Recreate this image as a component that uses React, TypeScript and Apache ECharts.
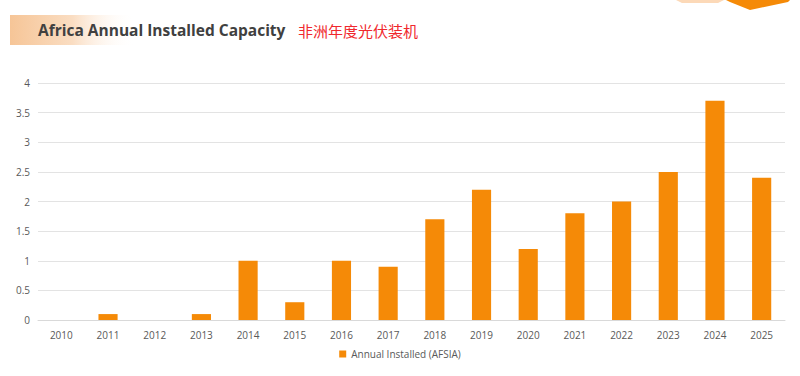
import React, { useEffect, useRef } from "react";
import * as echarts from "echarts";

const years = ["2010","2011","2012","2013","2014","2015","2016","2017","2018","2019","2020","2021","2022","2023","2024","2025"];
const installed = [0, 0.1, 0, 0.1, 1.0, 0.3, 1.0, 0.9, 1.7, 2.2, 1.2, 1.8, 2.0, 2.5, 3.7, 2.4];
const seriesName = "Annual Installed (AFSIA)";
const titleEn = "Africa Annual Installed Capacity";
const titleZh = "非洲年度光伏装机";

export default function App() {
  const ref = useRef<HTMLDivElement>(null);
  useEffect(() => {
    const chart = echarts.init(ref.current!, null, { renderer: "svg" });
    chart.setOption({
      animation: false,
      backgroundColor: "#ffffff",
      grid: { left: 38, right: 15, top: 83, bottom: 56, containLabel: false },
      graphic: [
        {
          type: "rect",
          shape: { x: 10, y: 15, width: 125, height: 30 },
          style: {
            fill: new echarts.graphic.LinearGradient(0, 0, 1, 0, [
              { offset: 0, color: "#F6C597" },
              { offset: 0.5, color: "#FADDC2" },
              { offset: 1, color: "rgba(255,255,255,0)" },
            ]),
          },
        },
        {
          type: "text",
          x: 38, y: 30,
          style: { text: titleEn, fill: "#404040", font: "bold 15.5px 'Open Sans', sans-serif", verticalAlign: "middle" },
        },
        {
          type: "text",
          x: 298, y: 30,
          style: { text: titleZh, fill: "#F0282D", font: "15px 'Noto Sans CJK SC', sans-serif", verticalAlign: "middle" },
        },
        {
          type: "polygon",
          shape: { points: [[676, 0], [724, 0], [718, 3], [682, 3]] },
          style: { fill: "#FCD9B8" },
        },
        {
          type: "polygon",
          shape: { points: [[726, 0], [790, 0], [788, 2], [750, 10], [730, 2]] },
          style: { fill: "#F58A07" },
        },
      ],
      legend: {
        bottom: 12,
        left: "center",
        itemWidth: 7,
        itemHeight: 7,
        icon: "rect",
        textStyle: { color: "#595959", fontSize: 10, fontFamily: "'Open Sans', sans-serif" },
        data: [seriesName],
      },
      xAxis: {
        type: "category",
        data: years,
        axisLine: { lineStyle: { color: "#D9D9D9" } },
        axisTick: { show: false },
        axisLabel: { color: "#595959", fontSize: 10, margin: 10, fontFamily: "'Open Sans', sans-serif" },
      },
      yAxis: {
        type: "value",
        min: 0,
        max: 4,
        interval: 0.5,
        axisLine: { show: false },
        axisTick: { show: false },
        splitLine: { lineStyle: { color: "#E3E3E3" } },
        axisLabel: { color: "#595959", fontSize: 10, margin: 8, fontFamily: "'Open Sans', sans-serif" },
      },
      series: [
        {
          name: seriesName,
          type: "bar",
          data: installed,
          barWidth: "41%",
          itemStyle: { color: "#F58A07" },
        },
      ],
    });
    return () => chart.dispose();
  }, []);
  return <div ref={ref} style={{ width: 800, height: 376, position: "absolute", left: 0, top: 0 }} />;
}
